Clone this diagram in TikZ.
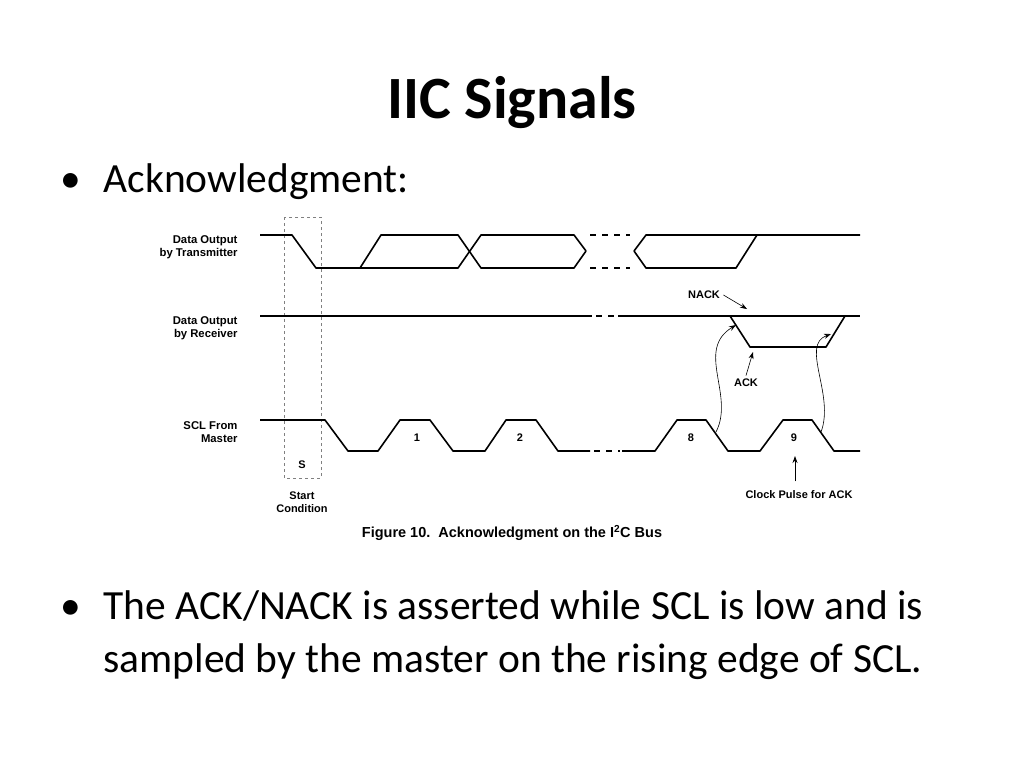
\documentclass[tikz,border=0pt]{standalone}
\usepackage{fontspec}
\setmainfont{Carlito}
\newfontfamily\arial{Liberation Sans}
\usetikzlibrary{arrows.meta}
\begin{document}
\begin{tikzpicture}[x=1pt,y=-1pt,
  sig/.style={line width=1.6pt,line join=round},
  lbl/.style={font=\arial\bfseries\fontsize{11.3}{13}\selectfont,align=right,anchor=east},
  sm/.style={font=\arial\bfseries\fontsize{11}{13.5}\selectfont,align=center},
  bul/.style={font=\fontsize{41.5}{48}\selectfont,anchor=base west,align=left},
  gap/.style={line width=1.6pt,dash pattern=on 6pt off 6pt},
  ptr/.style={line width=0.6pt,-{Stealth[length=7pt,width=5pt]}}]
\useasboundingbox (0,0) rectangle (1024,768);
\fill[white] (0,0) rectangle (1024,768);
\node[font=\bfseries\fontsize{60}{66}\selectfont,anchor=base] (title) at (512,118) {IIC Signals};
\node[bul] (d1) at (57,192) {•};
\node[bul] (b1) at (100,192) {Acknowledgment:};
\node[bul] (d2) at (57,619) {•};
\node[bul] (b2) at (100,619) {The ACK/NACK is asserted while SCL is low and is};
\node[bul] (b3) at (100,672) {sampled by the master on the rising edge of SCL.};
% labels
\node[lbl] (lt) at (241,247) {Data Output\\by Transmitter};
\node[lbl] (lr) at (241,328) {Data Output\\by Receiver};
\node[lbl] (ls) at (241,432) {SCL From\\Master};
% dashed start box
\draw[dashed,line width=0.6pt,gray] (284,217) rectangle (321,478);
\node[sm] (s) at (302,465) {S};
\node[sm] (sc) at (302,502) {Start\\Condition};
% transmitter
\draw[sig] (260,235) -- (292,235) -- (316,268) -- (458,268) -- (481,235) -- (574,235) -- (586,251);
\draw[sig] (360,268) -- (381,235) -- (458,235) -- (481,268) -- (574,268) -- (586,251);
\draw[gap] (590,235) -- (630,235);
\draw[gap] (590,268) -- (630,268);
\draw[sig] (634,251) -- (646,268) -- (736,268) -- (757,235);
\draw[sig] (634,251) -- (646,235) -- (860,235);
% receiver
\draw[sig] (260,316) -- (592,316);
\draw[gap] (596,316) -- (616,316);
\draw[sig] (618,316) -- (860,316);
\draw[sig] (730,316) -- (750,347) -- (826,347) -- (845,316);
% SCL
\draw[sig] (260,420) -- (325,420) -- (348,451) -- (378,451) -- (400,420) -- (430,420) -- (453,451) -- (485,451) -- (506,420) -- (536,420) -- (558,451) -- (590,451);
\draw[gap] (594,451) -- (620,451);
\draw[sig] (622,451) -- (655,451) -- (677,420) -- (706,420) -- (728,451) -- (760,451) -- (783,420) -- (812,420) -- (834,451) -- (860,451);
\node[sm] (n1) at (417,438) {1};
\node[sm] (n2) at (520,438) {2};
\node[sm] (n8) at (691,438) {8};
\node[sm] (n9) at (794,438) {9};
% annotations
\node[sm] (nack) at (704,295) {NACK};
\coordinate (nt) at (747,309);
\draw[ptr] (nack.east) -- (nt);
\node[sm] (ack) at (746,383) {ACK};
\coordinate (at) at (753,352);
\draw[ptr] (ack.north) -- (at);
\coordinate (c8) at (716,432);
\coordinate (r1) at (736,325);
\draw[ptr] (c8) .. controls (735,395) and (695,350) .. (r1);
\coordinate (c9) at (821,432);
\coordinate (r2) at (831,334);
\draw[ptr] (c9) .. controls (835,395) and (800,345) .. (r2);
\node[sm] (cp) at (799,495) {Clock Pulse for ACK};
\coordinate (ct) at (795,456);
\draw[ptr,line width=0.8pt] (cp.north -| ct) ++(0,-6) -- (ct);
\node[font=\arial\bfseries\fontsize{14.5}{16}\selectfont] (cap) at (512,533) {Figure 10.\ \ Acknowledgment on the I\textsuperscript{2}C Bus};
\end{tikzpicture}
\end{document}
